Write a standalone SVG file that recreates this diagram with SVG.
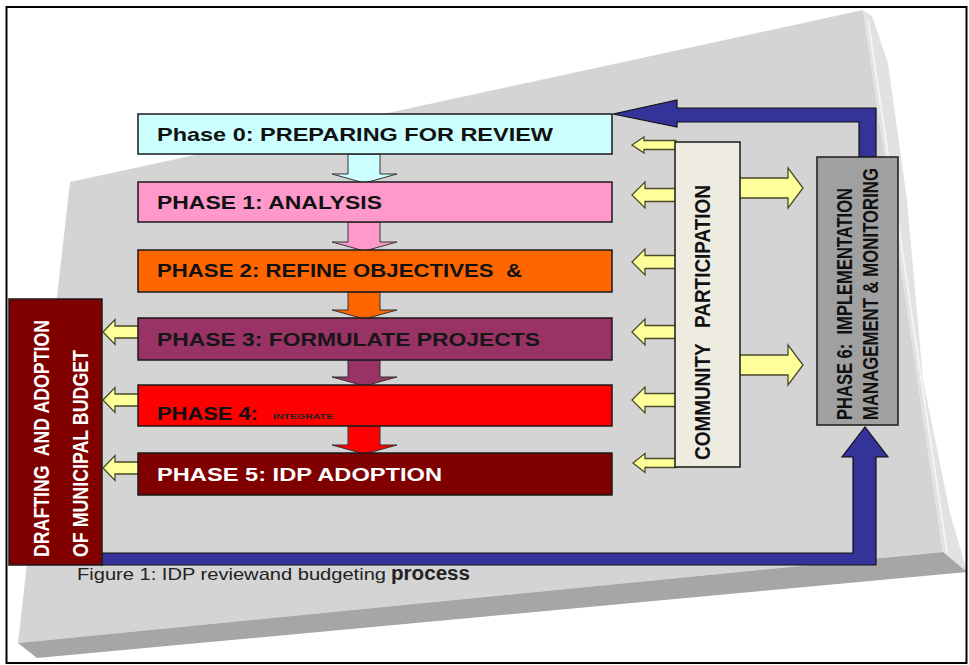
<svg xmlns="http://www.w3.org/2000/svg" width="969" height="665" viewBox="0 0 969 665">
<style>
.box{stroke:#1a1a1a;stroke-width:1.5}
.ph{font-family:"Liberation Sans",Arial,sans-serif;font-weight:bold;font-size:19px}
.rot{font-family:"Liberation Sans",Arial,sans-serif;font-weight:bold;font-size:22px}
.yl{fill:#ffff99;stroke:#4a4a2a;stroke-width:1.3;stroke-linejoin:miter}
.dn{stroke:#333;stroke-width:1}
.blue{fill:#333399;stroke:#111;stroke-width:1.2}
</style>
<rect x="0" y="0" width="969" height="665" fill="#ffffff"/>
<g id="background">
<polygon points="70,182 863,10 943,552 18,643" fill="#d4d4d4"/>
<polygon points="863,10 872,16 888,63 907,200 923,380 950,513 967,572 943,552" fill="#e2e2e2"/>
<line x1="868" y1="20" x2="947" y2="552" stroke="#f4f4f4" stroke-width="2"/>
<polygon points="18,643 943,552 967,572 37,658" fill="#a6a6a6"/>
</g>
<g id="connectors">
<path class="dn" fill="#ccffff" d="M348,154 L380,154 L380,174 L397,174 L364.5,183 L332,174 L348,174 Z"/>
<path class="dn" fill="#ff99cc" d="M348,222 L380,222 L380,242 L397,242 L364.5,251 L332,242 L348,242 Z"/>
<path class="dn" fill="#ff6600" d="M348,292 L380,292 L380,310 L397,310 L364.5,319 L332,310 L348,310 Z"/>
<path class="dn" fill="#993366" d="M348,360 L380,360 L380,377 L397,377 L364.5,386 L332,377 L348,377 Z"/>
<path class="dn" fill="#ff0000" d="M348,426 L380,426 L380,445 L397,445 L364.5,454 L332,445 L348,445 Z"/>
<path class="yl" d="M103,332 L115,319.5 L115,326 L139,326 L139,338 L115,338 L115,344.5 Z"/>
<path class="yl" d="M103,400 L115,387.5 L115,394 L139,394 L139,406 L115,406 L115,412.5 Z"/>
<path class="yl" d="M103,468 L115,455.5 L115,462 L139,462 L139,474 L115,474 L115,480.5 Z"/>
<path class="yl" d="M632,145 L644,137 L644,140.5 L676,140.5 L676,149.5 L644,149.5 L644,153 Z"/>
<path class="yl" d="M632,195 L645,182 L645,188.5 L676,188.5 L676,201.5 L645,201.5 L645,208 Z"/>
<path class="yl" d="M632,262 L645,249 L645,255.5 L676,255.5 L676,268.5 L645,268.5 L645,275 Z"/>
<path class="yl" d="M632,332 L645,319 L645,325.5 L676,325.5 L676,338.5 L645,338.5 L645,345 Z"/>
<path class="yl" d="M632,400 L645,387 L645,393.5 L676,393.5 L676,406.5 L645,406.5 L645,413 Z"/>
<path class="yl" d="M633,463 L645,453.5 L645,458.5 L676,458.5 L676,467.5 L645,467.5 L645,472.5 Z"/>
<path class="yl" d="M739,178 L788,178 L788,168 L803,188 L788,208 L788,198 L739,198 Z"/>
<path class="yl" d="M739,355 L788,355 L788,345 L803,365 L788,385 L788,375 L739,375 Z"/>
<path class="blue" d="M876,157 L876,108 L677,108 L677,100 L613,114 L677,127 L677,122 L859,122 L859,157 Z"/>
<path class="blue" d="M101,553 L853,553 L853,457 L842,457 L865,427 L888,457 L876,457 L876,565 L101,565 Z"/>
</g>
<g id="phase0">
<rect class="box" x="138" y="114" width="474" height="40" fill="#ccffff"/>
<text class="ph" x="157" y="141" textLength="396" lengthAdjust="spacingAndGlyphs" fill="#111">Phase 0: PREPARING FOR REVIEW</text>
</g>
<g id="phase1">
<rect class="box" x="138" y="182" width="474" height="40" fill="#ff99cc"/>
<text class="ph" x="157" y="209" textLength="225" lengthAdjust="spacingAndGlyphs" fill="#111">PHASE 1: ANALYSIS</text>
</g>
<g id="phase2">
<rect class="box" x="138" y="250" width="474" height="42" fill="#ff6600"/>
<text class="ph" x="157" y="277" textLength="365" lengthAdjust="spacingAndGlyphs" fill="#111" xml:space="preserve">PHASE 2: REFINE OBJECTIVES  &amp;</text>
</g>
<g id="phase3">
<rect class="box" x="138" y="318" width="474" height="42" fill="#993366"/>
<text class="ph" x="157" y="346" textLength="383" lengthAdjust="spacingAndGlyphs" fill="#161616">PHASE 3: FORMULATE PROJECTS</text>
</g>
<g id="phase4">
<rect class="box" x="138" y="385" width="474" height="41" fill="#ff0000"/>
<text class="ph" x="157" y="420" textLength="101" lengthAdjust="spacingAndGlyphs" fill="#111">PHASE 4:</text>
<text x="273" y="419" font-family="Liberation Sans,Arial,sans-serif" font-weight="bold" font-size="7" textLength="60" lengthAdjust="spacingAndGlyphs" fill="#222">INTEGRATE</text>
</g>
<g id="phase5">
<rect class="box" x="138" y="453" width="474" height="42" fill="#800000"/>
<text class="ph" x="157" y="481" textLength="285" lengthAdjust="spacingAndGlyphs" fill="#ffffff">PHASE 5: IDP ADOPTION</text>
</g>
<g id="budget">
<rect class="box" x="9" y="299" width="93" height="266" fill="#800000"/>
<text class="rot" transform="translate(49,557) rotate(-90)" font-size="23" textLength="237" lengthAdjust="spacingAndGlyphs" fill="#ffffff" xml:space="preserve">DRAFTING  AND ADOPTION</text>
<text class="rot" transform="translate(88,557) rotate(-90)" font-size="23" textLength="207" lengthAdjust="spacingAndGlyphs" fill="#ffffff">OF MUNICIPAL BUDGET</text>
</g>
<g id="community">
<rect class="box" x="675" y="142" width="65" height="325" fill="#eeece1"/>
<text class="rot" transform="translate(710,460) rotate(-90)" textLength="275" lengthAdjust="spacingAndGlyphs" fill="#111" xml:space="preserve">COMMUNITY   PARTICIPATION</text>
</g>
<g id="phase6">
<rect class="box" x="817" y="157" width="81" height="268" fill="#a0a0a0"/>
<text class="rot" transform="translate(852,420) rotate(-90)" textLength="232" lengthAdjust="spacingAndGlyphs" fill="#111" xml:space="preserve">PHASE 6:  IMPLEMENTATION</text>
<text class="rot" transform="translate(878,420) rotate(-90)" textLength="252" lengthAdjust="spacingAndGlyphs" fill="#111">MANAGEMENT &amp; MONITORING</text>
</g>
<g id="caption">
<text x="77" y="580" font-family="Liberation Sans,Arial,sans-serif" font-size="17" textLength="309" lengthAdjust="spacingAndGlyphs" fill="#222">Figure 1:  IDP reviewand budgeting</text>
<text x="391" y="580" font-family="Liberation Sans,Arial,sans-serif" font-weight="bold" font-size="20" textLength="79" lengthAdjust="spacingAndGlyphs" fill="#222">process</text>
</g>
<rect x="6.5" y="7" width="960" height="656" fill="none" stroke="#000" stroke-width="2"/>
</svg>
